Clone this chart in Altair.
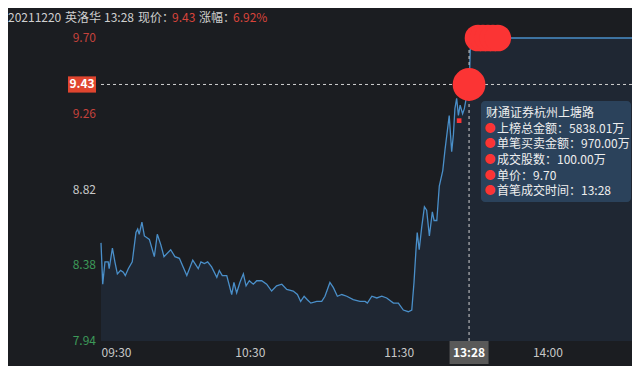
import altair as alt
import pandas as pd

# ---- data ----
# x: trading minutes since 09:30 (13:00 continues at 120)
minutes = [0, 0.7, 1.6, 2.9, 3.3, 4.6, 5.6, 6.6, 7.9, 9.0,
           9.8, 11.0, 12.6, 14.1, 14.8, 15.4, 16.5, 17.5, 19.5, 21.5,
           22.7, 24.1, 25.4, 28.1, 29.8, 31.6, 34.6, 37.0, 39.2, 40.3,
           41.7, 43.0, 44.6, 46.7, 47.7, 48.9, 50.7, 52.7, 53.6, 54.7,
           56.0, 57.4, 58.5, 59.8, 61.4, 62.8, 64.8, 66.8, 68.8, 70.8,
           72.9, 74.9, 77.5, 79.2, 80.5, 81.9, 83.2, 84.6, 87.0, 89.0,
           90.3, 92.3, 93.7, 95.3, 97.1, 99.1, 101.7, 104.4, 106.5, 107.4,
           109.2, 111.2, 113.2, 115.2, 117.9, 119.9, 121.9, 123.9, 125.3, 126.2,
           127.0, 127.5, 128.3, 129.3, 130.4, 131.3, 132.4, 133.6, 134.3, 135.4,
           136.4, 137.8, 138.7, 140.4, 141.4, 142.1, 142.7, 143.4, 144.1, 144.8,
           145.8, 146.5, 147.5, 148.5, 149.0, 214.1]
prices = [8.51, 8.27, 8.40, 8.40, 8.36, 8.48, 8.40, 8.33, 8.35, 8.34,
          8.32, 8.36, 8.40, 8.57, 8.59, 8.56, 8.63, 8.55, 8.53, 8.43,
          8.56, 8.50, 8.43, 8.47, 8.43, 8.42, 8.32, 8.41, 8.36, 8.40,
          8.39, 8.40, 8.37, 8.31, 8.35, 8.32, 8.32, 8.21, 8.28, 8.22,
          8.28, 8.33, 8.26, 8.29, 8.27, 8.29, 8.29, 8.27, 8.23, 8.26,
          8.27, 8.24, 8.23, 8.21, 8.17, 8.20, 8.18, 8.16, 8.17, 8.17,
          8.20, 8.28, 8.25, 8.20, 8.21, 8.20, 8.18, 8.17, 8.17, 8.16,
          8.20, 8.19, 8.20, 8.19, 8.16, 8.16, 8.12, 8.11, 8.12, 8.28,
          8.47, 8.57, 8.47, 8.60, 8.72, 8.70, 8.55, 8.69, 8.64, 8.64,
          8.84, 8.93, 9.05, 9.25, 9.04, 9.14, 9.29, 9.35, 9.25, 9.31,
          9.26, 9.29, 9.37, 9.43, 9.70, 9.70]

y_min, y_max = 7.94, 9.70
x_max = 214.1
y_tick_values = [9.70, 9.26, 8.82, 8.38, 7.94]
y_tick_colors = ["#c4423c", "#c4423c", "#c8c8c8", "#3d9a59", "#3d9a59"]
x_tick_values = [0, 60, 120, 180]
x_tick_labels = ["09:30", "10:30", "11:30", "14:00"]

current_minute = 148.4
current_price = 9.43
current_label = "13:28"
big_trade_minutes = [152, 154, 156, 158, 160]
big_trade_price = 9.70
small_mark_minute = [144.4]
small_mark_price = [9.22]

header_parts = ["20211220", "英洛华", "13:28", "现价：", "9.43", "涨幅：", "6.92%"]
tip_title = "财通证券杭州上塘路"
tip_lines = ["上榜总金额：5838.01万", "单笔买卖金额：970.00万", "成交股数：100.00万",
             "单价：9.70", "首笔成交时间：13:28"]

# ---- styling ----
BG = "#1b1d21"
FILL = "#1f2733"
LINE = "#4a8fc9"
RED = "#fb3434"
FONT = "Noto Sans CJK SC"
W, H = 531, 303

line_df = pd.DataFrame({"m": minutes, "p": prices})

xs = alt.Scale(domain=[0, x_max], nice=False, zero=False)
ys = alt.Scale(domain=[y_min, y_max], nice=False, zero=False)
label_expr = " : ".join(
    f"datum.value == {v} ? '{l}'" for v, l in zip(x_tick_values, x_tick_labels)
) + " : ''"
x_enc = alt.X("m:Q", scale=xs, axis=alt.Axis(
    values=x_tick_values, labelExpr=label_expr, labelFlush=True, ticks=False,
    domain=False, grid=False, title=None, labelColor="#c8c8c8", labelFontSize=12,
    labelPadding=6, labelFont=FONT))
y_enc = alt.Y("p:Q", scale=ys, axis=None)

area = alt.Chart(line_df).mark_area(color=FILL).encode(x=x_enc, y=y_enc, y2=alt.datum(y_min))
line = alt.Chart(line_df).mark_line(color=LINE, strokeWidth=1.3).encode(x=x_enc, y=y_enc)

cur_df = pd.DataFrame({"m": [current_minute], "p": [current_price]})
hrule = alt.Chart(cur_df).mark_rule(color="#cfcfcf", strokeDash=[3, 3], strokeWidth=1).encode(y=y_enc)
vrule = alt.Chart(cur_df).mark_rule(color="#cfcfcf", strokeDash=[3, 3], strokeWidth=1).encode(x=x_enc)

big_df = pd.DataFrame({"m": big_trade_minutes, "p": [big_trade_price] * len(big_trade_minutes)})
pill = alt.Chart(big_df).mark_circle(color=RED, opacity=1, size=707).encode(x=x_enc, y=y_enc)
big_circle = alt.Chart(cur_df).mark_circle(color=RED, opacity=1, size=1075).encode(x=x_enc, y=y_enc)
sm_df = pd.DataFrame({"m": small_mark_minute, "p": small_mark_price})
small_sq = alt.Chart(sm_df).mark_square(color=RED, opacity=1, size=22).encode(x=x_enc, y=y_enc)

# y labels
ytick_df = pd.DataFrame({"p": y_tick_values, "c": y_tick_colors,
                         "t": [f"{v:.2f}" for v in y_tick_values]})
ylabels = alt.Chart(ytick_df).mark_text(align="right", baseline="middle", fontSize=12, font=FONT).encode(
    x=alt.value(-5), y=y_enc, text="t:N", color=alt.Color("c:N", scale=None))

# current price box on y-axis
box_path = "M-1,-0.58L1,-0.58L1,0.58L-1,0.58Z"
ybox = alt.Chart(cur_df).mark_point(shape=box_path, filled=True, color="#e0452f", opacity=1, size=784).encode(
    x=alt.value(-19), y=y_enc)
ybox_text = alt.Chart(cur_df).mark_text(color="white", fontWeight="bold", fontSize=12, font=FONT).encode(
    x=alt.value(-19), y=y_enc, text=alt.value(f"{current_price:.2f}"))

# current time box on x-axis
xbox_path = "M-1,-0.59L1,-0.59L1,0.59L-1,0.59Z"
xbox = alt.Chart(cur_df).mark_point(shape=xbox_path, filled=True, color="#595959", opacity=1, size=1521).encode(
    x=x_enc, y=alt.value(H + 11.5))
xbox_text = alt.Chart(cur_df).mark_text(color="white", fontWeight="bold", fontSize=12, font=FONT).encode(
    x=x_enc, y=alt.value(H + 11.5), text=alt.value(current_label))

# tooltip box
tip_box = alt.Chart(cur_df).mark_rect(color="#2c455f", opacity=0.93, cornerRadius=4).encode(
    x=alt.value(380), x2=alt.value(530), y=alt.value(63), y2=alt.value(164))
tip_title_t = alt.Chart(cur_df).mark_text(align="left", baseline="middle", color="#eeeeee", fontSize=12, font=FONT).encode(
    x=alt.value(385), y=alt.value(75), text=alt.value(tip_title))
tip_text = alt.Chart(cur_df).mark_text(align="left", baseline="middle", color="#eeeeee", fontSize=12, font=FONT,
                                       lineBreak="\n", lineHeight=15.7).encode(
    x=alt.value(396), y=alt.value(90.5), text=alt.value("\n".join(tip_lines)))
tip_bullets = alt.Chart(cur_df).mark_text(align="center", baseline="middle", color=RED, fontSize=11, font=FONT,
                                          lineBreak="\n", lineHeight=15.7).encode(
    x=alt.value(389), y=alt.value(90.5), text=alt.value("\n".join(["●"] * len(tip_lines))))

# header
header_x = [-93, -36, 3, 37, 71, 98, 132]
header_colors = ["#cfcfcf", "#cfcfcf", "#cfcfcf", "#cfcfcf", "#d9443b", "#cfcfcf", "#d9443b"]
header_layers = [
    alt.Chart(cur_df).mark_text(align="left", baseline="middle", color=c, fontSize=12, font=FONT).encode(
        x=alt.value(hx), y=alt.value(-20.5), text=alt.value(t))
    for t, hx, c in zip(header_parts, header_x, header_colors)
]

chart = alt.layer(
    area, line, hrule, vrule, small_sq, pill, big_circle,
    ylabels, ybox, ybox_text, xbox, xbox_text,
    tip_box, tip_title_t, tip_text, tip_bullets, *header_layers
).properties(
    width=W, height=H,
    autosize=alt.AutoSizeParams(type="none"),
    padding={"left": 93, "top": 30, "right": 0, "bottom": 25},
).configure(background=BG).configure_view(strokeWidth=0)

chart.save("out.html", embed_options={"renderer": "svg", "actions": False})
